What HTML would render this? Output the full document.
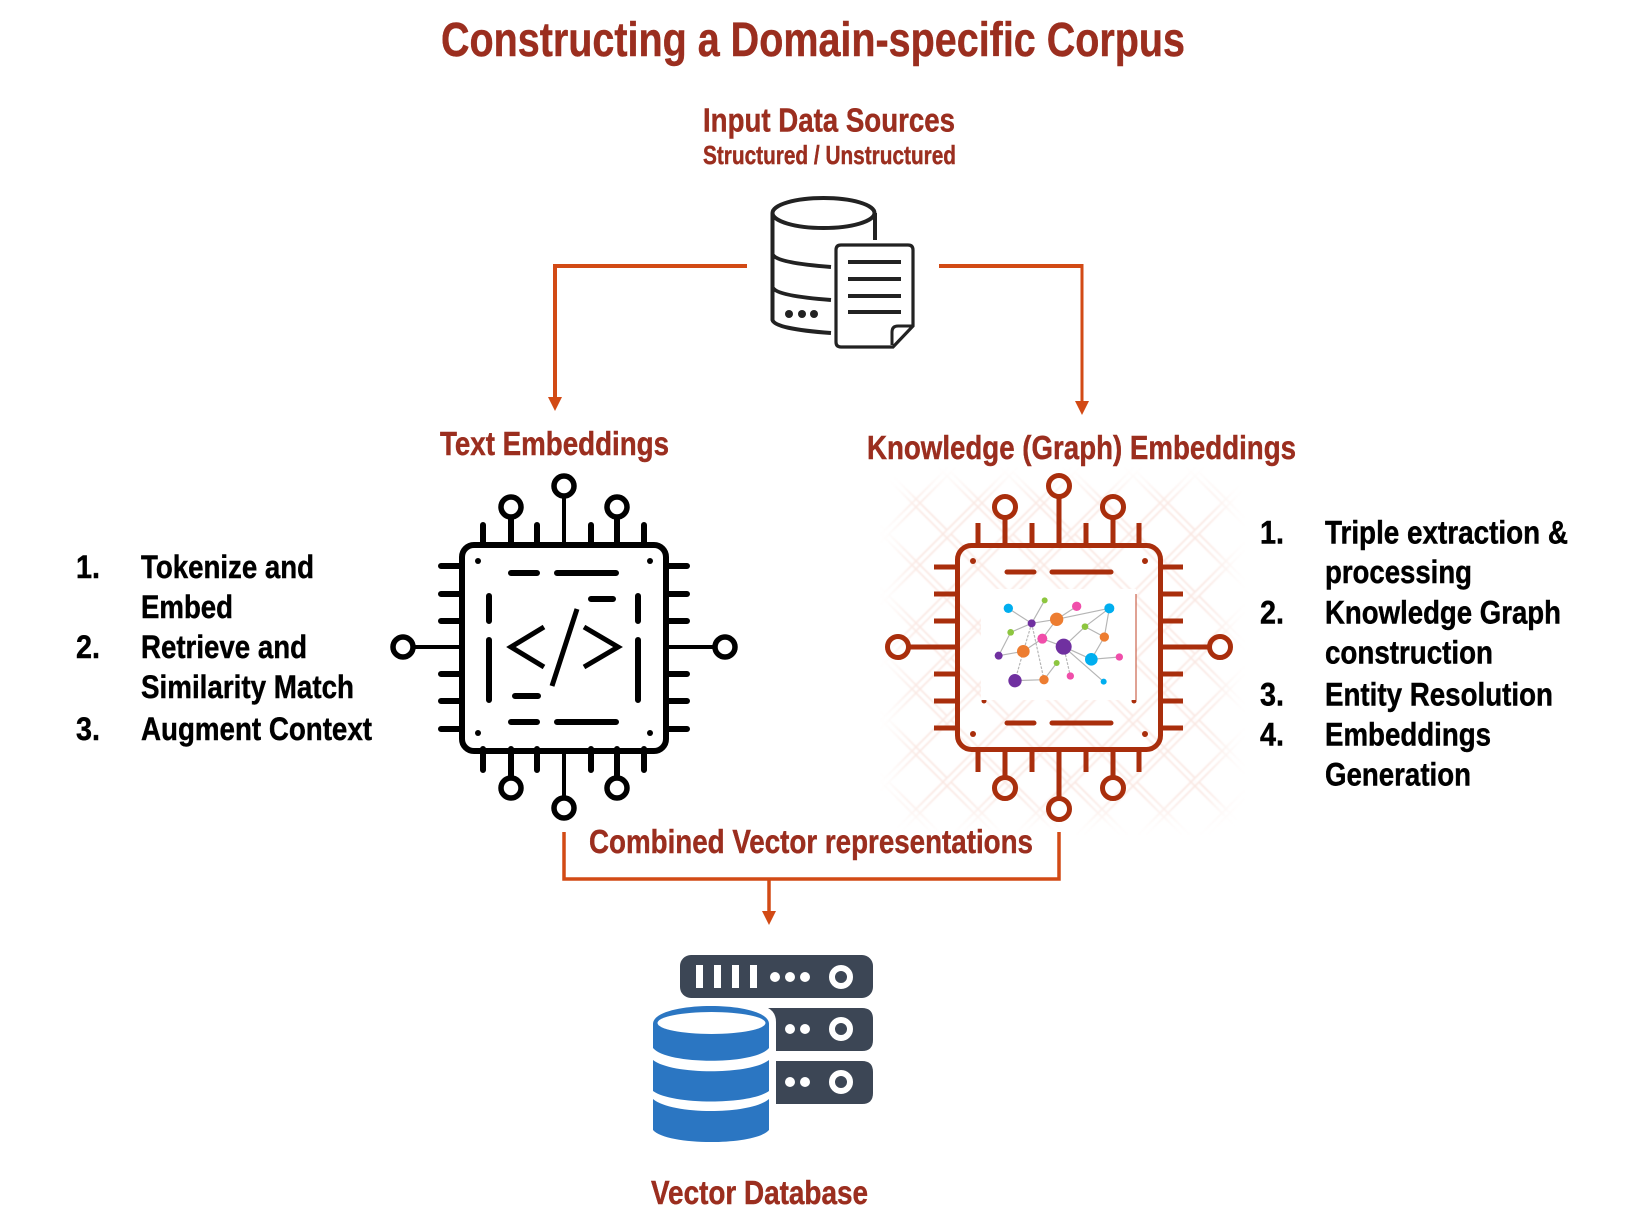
<!DOCTYPE html>
<html><head><meta charset="utf-8"><style>
html,body{margin:0;padding:0;background:#fff}
svg{display:block}
text{font-family:"Liberation Sans",Arial,sans-serif;font-weight:bold;stroke-width:.45}
.r{fill:#9b2e1f;stroke:#9b2e1f}
.k{fill:#000;stroke:#000}
</style></head><body>
<svg xmlns="http://www.w3.org/2000/svg" width="1640" height="1222" viewBox="0 0 1640 1222">
<defs>
<pattern id="hatch" width="62" height="62" patternUnits="userSpaceOnUse" patternTransform="translate(885 472)">
<g stroke="#f3c9bd" stroke-width="1.600" fill="none">
<path d="M-4 0L62 66M-4 -62L124 66M-66 -4L62 124M4 0L62 58M-62 4L4 66"/>
<path d="M66 0L0 66M4 0L-62 66M128 0L0 128M58 0L0 58M62 58L58 62"/>
</g>
</pattern>
<filter id="fe" x="-10%" y="-10%" width="120%" height="120%"><feGaussianBlur stdDeviation="12"/></filter>
<filter id="sf" x="0" y="0" width="100%" height="100%"><feGaussianBlur stdDeviation=".9"/></filter>
<mask id="fade"><rect x="900" y="487" width="325" height="328" rx="20" fill="#fff" filter="url(#fe)"/></mask>
</defs>

<text class="r" x="441" y="56" font-size="48" textLength="744" lengthAdjust="spacingAndGlyphs">Constructing a Domain-specific Corpus</text>
<text class="r" x="703" y="131.500" font-size="33" textLength="252" lengthAdjust="spacingAndGlyphs">Input Data Sources</text>
<text class="r" x="703" y="164" font-size="26" textLength="253" lengthAdjust="spacingAndGlyphs">Structured / Unstructured</text>

<!-- source icon -->
<g fill="none" stroke="#222" stroke-width="4">
<ellipse cx="823.500" cy="213" rx="51" ry="15"/>
<path d="M772.500 213V320Q775 329 831 333M875 213V240M773 255Q778 263 831 267M773 288Q778 296 831 300"/>
<path d="M841 245H908Q913 245 913 250V326L893 347H841Q836 347 836 342V250Q836 245 841 245Z" stroke-width="3.200"/>
<path d="M892 345V332Q892 326 898 326H913" stroke-width="3"/>
<path d="M848 262H901M848 279H901M848 296H901M848 312H901"/>
</g>
<g fill="#222"><circle cx="789" cy="314" r="4"/><circle cx="802" cy="314" r="4"/><circle cx="814" cy="314" r="4"/></g>

<!-- connectors -->
<g fill="none" stroke="#d24a15">
<path d="M747 266H555V398" stroke-width="4"/>
<path d="M939 266H1083" stroke-width="4"/><path d="M1082 264V402" stroke-width="3"/>
<path d="M564 832V879H1059V832" stroke-width="3.500"/>
<path d="M769 879V912" stroke-width="3.500"/>
</g>
<g fill="#d24a15">
<path d="M548 397H562L555 411Z"/><path d="M1075 401H1089L1082 415Z"/><path d="M762 911H776L769 925Z"/>
</g>

<text class="r" x="440" y="455" font-size="33" textLength="229" lengthAdjust="spacingAndGlyphs">Text Embeddings</text>
<text class="r" x="867" y="459" font-size="33" textLength="429" lengthAdjust="spacingAndGlyphs">Knowledge (Graph) Embeddings</text>

<!-- black chip -->
<g fill="none" stroke="#000" stroke-linecap="round">
<rect x="462" y="545" width="204" height="206" rx="12" stroke-width="6"/>
<path stroke-width="6" stroke-linecap="round" d="M483 525V545M537 525V545M591 525V545M644 525V545M483 749V770M537 749V770M591 749V770M644 749V770M511 518V545M617 518V545M511 749V777M617 749V777M441 566H462M441 594H462M441 621H462M441 674H462M441 701H462M441 729H462M666 566H687M666 594H687M666 621H687M666 674H687M666 701H687M666 729H687"/>
<path stroke-width="4" stroke-linecap="butt" d="M564 496V545M564 749V798M413 647H462M666 647H715"/>
<circle cx="511" cy="507" r="10" stroke-width="5.500"/><circle cx="564" cy="486" r="10" stroke-width="5.500"/><circle cx="617" cy="507" r="10" stroke-width="5.500"/>
<circle cx="511" cy="788" r="10" stroke-width="5.500"/><circle cx="564" cy="808" r="10" stroke-width="5.500"/><circle cx="617" cy="788" r="10" stroke-width="5.500"/>
<circle cx="403" cy="647" r="10" stroke-width="5.500"/><circle cx="725" cy="647" r="10" stroke-width="5.500"/>
<path stroke-width="6" d="M511 573H537M557 573H616M511 722H537M557 722H616M489 596V621M489 640V700M638 596V621M638 640V700M591 599H613M515 696H538"/>
<path stroke-width="5" stroke-linecap="butt" d="M544 627L511 647L544 667M584 627L618 647L584 667M577 609L552 686"/>
</g>
<g fill="#000"><circle cx="478" cy="561" r="3"/><circle cx="650" cy="561" r="3"/><circle cx="478" cy="733" r="3"/><circle cx="650" cy="733" r="3"/></g>

<!-- hatch bg -->
<g filter="url(#sf)" opacity=".45"><rect x="880" y="467" width="365" height="368" fill="url(#hatch)" mask="url(#fade)"/></g>

<!-- red chip -->
<g fill="none" stroke="#a92e0c" stroke-linecap="round">
<rect x="957.500" y="545.500" width="203" height="204" rx="14" stroke-width="5"/>
<path stroke-width="5" stroke-linecap="butt" d="M978 523V545M1032 523V545M1086 523V545M1139 523V545M978 750V772M1032 750V772M1086 750V772M1139 750V772M1005 518V545M1113 518V545M1005 750V777M1113 750V777M934 567H957M934 594H957M934 621H957M934 674H957M934 701H957M934 728H957M1161 567H1183M1161 594H1183M1161 621H1183M1161 674H1183M1161 701H1183M1161 728H1183M1059 497V545M1059 750V798M909 647H957M1161 647H1209"/>
<circle cx="1005" cy="507" r="10.500" stroke-width="5"/><circle cx="1059" cy="486" r="10.500" stroke-width="5"/><circle cx="1113" cy="507" r="10.500" stroke-width="5"/>
<circle cx="1005" cy="788" r="10.500" stroke-width="5"/><circle cx="1059" cy="809" r="10.500" stroke-width="5"/><circle cx="1113" cy="788" r="10.500" stroke-width="5"/>
<circle cx="898" cy="647" r="10.500" stroke-width="5"/><circle cx="1220" cy="647" r="10.500" stroke-width="5"/>
<path stroke-width="5" d="M1007 572H1034M1052 572H1111M1007 723H1034M1052 723H1111"/>
</g>
<g fill="#a92e0c"><circle cx="973" cy="561" r="3"/><circle cx="1145" cy="561" r="3"/><circle cx="973" cy="734" r="3"/><circle cx="1145" cy="734" r="3"/><circle cx="984" cy="701" r="2.500"/><circle cx="1134" cy="701" r="2.500"/></g>

<!-- graph -->
<rect x="981" y="589" width="155" height="111" fill="#fff"/>
<path d="M1136 594V700" stroke="#c0452a" stroke-width="1" fill="none"/>
<g transform="translate(970 580) scale(.33333)">
<g stroke="#b5b5b5" stroke-width="3.500" fill="none">
<path d="M115 85L185 130M224 61L185 130M185 130L260 118M260 118L320 79M260 118L418 85M418 85L345 140M418 85L403 171M345 140L403 171M345 140L281 200M403 171L364 238M364 238L448 231M281 200L364 238M281 200L217 176M217 176L260 118M217 176L160 214M185 130L122 157M122 157L86 227M86 227L160 214M135 302L222 299M222 299L260 249M281 200L401 305"/>
<path stroke-dasharray="8 4" d="M185 130L160 214M185 130L222 299M160 214L135 302M281 200L301 288"/>
</g>
<g fill="#00aeef"><circle cx="115" cy="85" r="14"/><circle cx="418" cy="85" r="15"/><circle cx="364" cy="238" r="19"/><circle cx="401" cy="305" r="9"/></g>
<g fill="#8dc63f"><circle cx="224" cy="61" r="9"/><circle cx="122" cy="157" r="10"/><circle cx="345" cy="140" r="10"/><circle cx="260" cy="249" r="9"/></g>
<g fill="#f04eaa"><circle cx="320" cy="79" r="14"/><circle cx="217" cy="176" r="15"/><circle cx="448" cy="231" r="11"/><circle cx="301" cy="288" r="11"/></g>
<g fill="#7030a0"><circle cx="185" cy="130" r="12"/><circle cx="281" cy="200" r="24"/><circle cx="86" cy="227" r="12"/><circle cx="135" cy="302" r="20"/></g>
<g fill="#ed7d31"><circle cx="260" cy="118" r="20"/><circle cx="403" cy="171" r="14"/><circle cx="160" cy="214" r="19"/><circle cx="222" cy="299" r="14"/></g>
</g>

<text class="r" x="589" y="853" font-size="33" textLength="444" lengthAdjust="spacingAndGlyphs">Combined Vector representations</text>

<!-- left list -->
<g font-size="32">
<text class="k" x="76" y="578" textLength="24" lengthAdjust="spacingAndGlyphs">1.</text>
<text class="k" x="141" y="578" textLength="173" lengthAdjust="spacingAndGlyphs">Tokenize and</text>
<text class="k" x="141" y="618" textLength="92" lengthAdjust="spacingAndGlyphs">Embed</text>
<text class="k" x="76" y="658" textLength="24" lengthAdjust="spacingAndGlyphs">2.</text>
<text class="k" x="141" y="658" textLength="166" lengthAdjust="spacingAndGlyphs">Retrieve and</text>
<text class="k" x="141" y="698" textLength="213" lengthAdjust="spacingAndGlyphs">Similarity Match</text>
<text class="k" x="76" y="740" textLength="24" lengthAdjust="spacingAndGlyphs">3.</text>
<text class="k" x="141" y="740" textLength="231" lengthAdjust="spacingAndGlyphs">Augment Context</text>
</g>
<!-- right list -->
<g font-size="32">
<text class="k" x="1260" y="543.500" textLength="24" lengthAdjust="spacingAndGlyphs">1.</text>
<text class="k" x="1325" y="543.500" textLength="243" lengthAdjust="spacingAndGlyphs">Triple extraction &amp;</text>
<text class="k" x="1325" y="583" textLength="147" lengthAdjust="spacingAndGlyphs">processing</text>
<text class="k" x="1260" y="623.500" textLength="24" lengthAdjust="spacingAndGlyphs">2.</text>
<text class="k" x="1325" y="623.500" textLength="236" lengthAdjust="spacingAndGlyphs">Knowledge Graph</text>
<text class="k" x="1325" y="663.500" textLength="168" lengthAdjust="spacingAndGlyphs">construction</text>
<text class="k" x="1260" y="705.500" textLength="24" lengthAdjust="spacingAndGlyphs">3.</text>
<text class="k" x="1325" y="705.500" textLength="228" lengthAdjust="spacingAndGlyphs">Entity Resolution</text>
<text class="k" x="1260" y="745.500" textLength="24" lengthAdjust="spacingAndGlyphs">4.</text>
<text class="k" x="1325" y="745.500" textLength="166" lengthAdjust="spacingAndGlyphs">Embeddings</text>
<text class="k" x="1325" y="785.500" textLength="146" lengthAdjust="spacingAndGlyphs">Generation</text>
</g>

<!-- vector db -->
<g fill="#3c4655">
<rect x="680" y="955" width="193" height="43" rx="11"/>
<path d="M768 1008H862Q873 1008 873 1019V1040Q873 1051 862 1051H776V1022Q776 1012 768 1008Z"/>
<path d="M776 1061H862Q873 1061 873 1072V1093Q873 1104 862 1104H776Z"/>
</g>
<g fill="#fff">
<rect x="696" y="965" width="7" height="23"/><rect x="714" y="965" width="7" height="23"/><rect x="732" y="965" width="7" height="23"/><rect x="750" y="965" width="7" height="23"/>
<circle cx="775" cy="977" r="5"/><circle cx="790" cy="977" r="5"/><circle cx="805" cy="977" r="5"/>
<circle cx="790" cy="1029" r="5"/><circle cx="805" cy="1029" r="5"/>
<circle cx="790" cy="1082" r="5"/><circle cx="805" cy="1082" r="5"/>
</g>
<g fill="none" stroke="#fff" stroke-width="6"><circle cx="841" cy="977" r="9"/><circle cx="841" cy="1029" r="9"/><circle cx="841" cy="1082" r="9"/></g>
<g fill="#2b76c2">
<path d="M653 1024C653 1000 769 1000 769 1024V1048C755 1065 667 1065 653 1048Z"/>
<path d="M653 1060C672 1075 750 1075 769 1060V1091C750 1105 672 1105 653 1091Z"/>
<path d="M653 1099C672 1115 750 1115 769 1099V1130C755 1146 667 1146 653 1130Z"/>
</g>
<ellipse cx="711.500" cy="1023" rx="54" ry="11" fill="#fff"/>

<text class="r" x="651" y="1204" font-size="33" textLength="217" lengthAdjust="spacingAndGlyphs">Vector Database</text>
</svg>
</body></html>
